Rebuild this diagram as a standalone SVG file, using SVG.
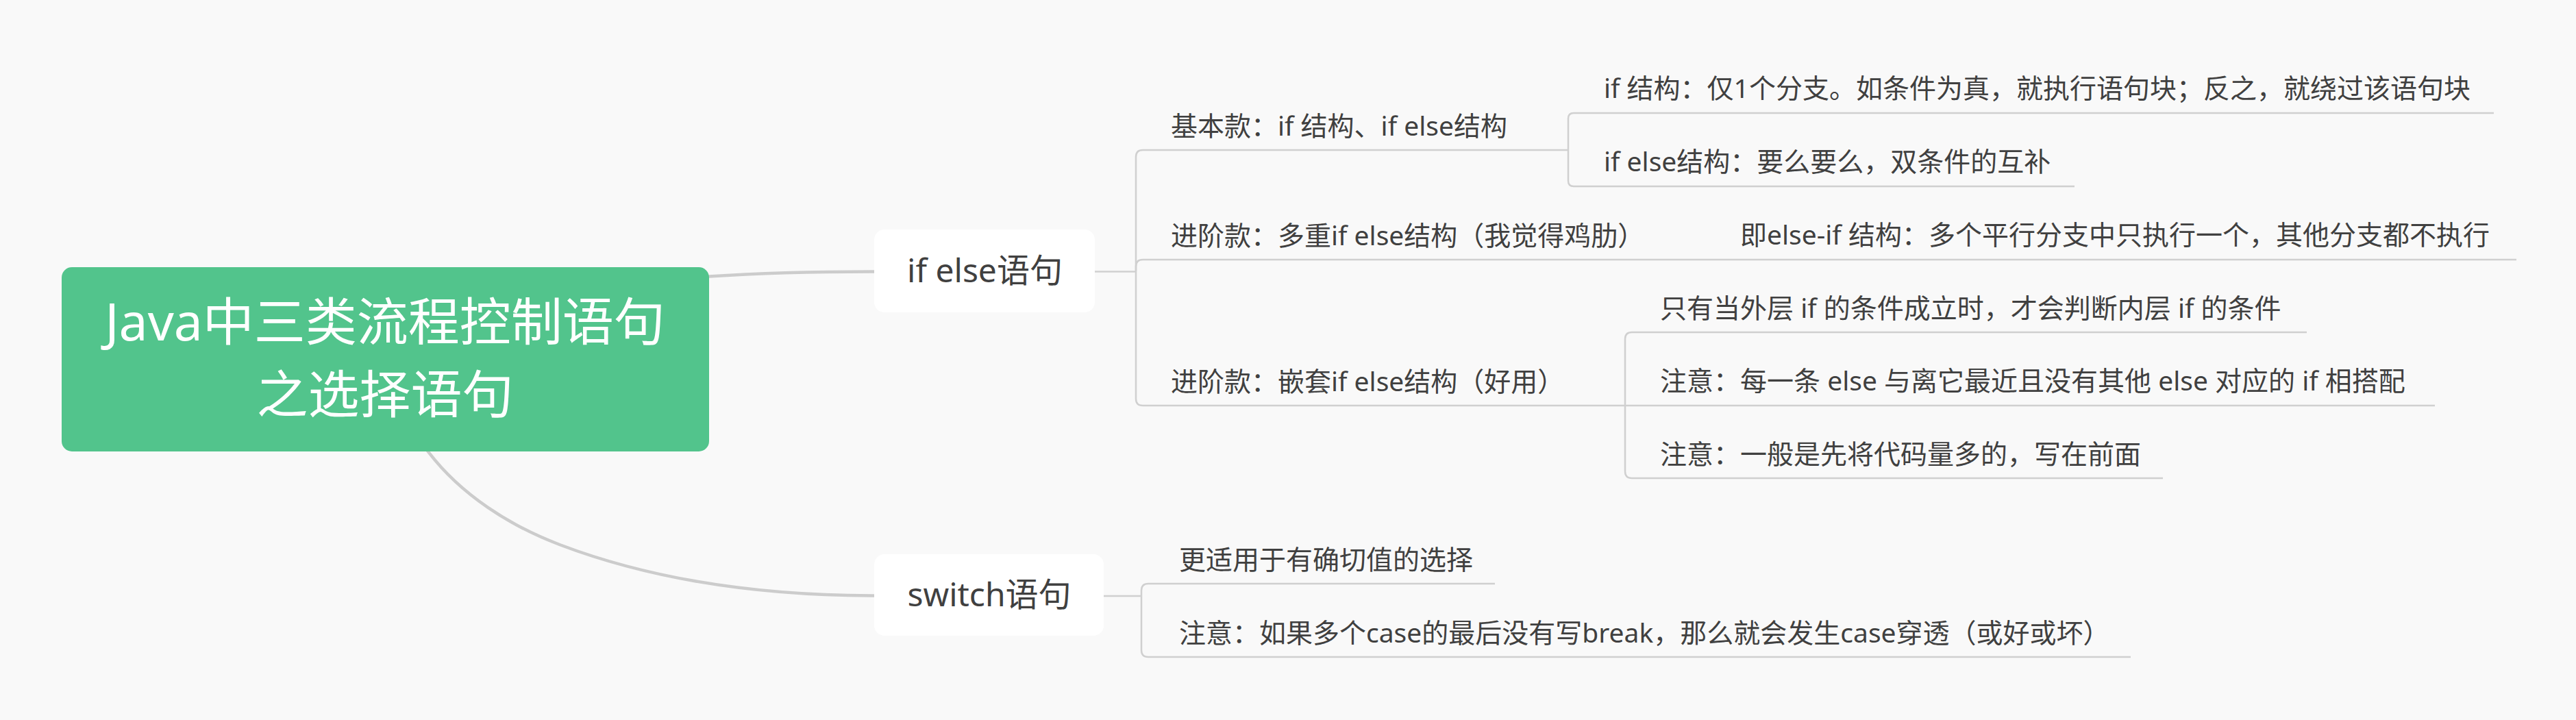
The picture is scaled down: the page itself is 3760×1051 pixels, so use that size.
<svg xmlns="http://www.w3.org/2000/svg" width="3760" height="1051" viewBox="0 0 3760 1051">
<style>
.bg{fill:#f9f9f9}
.main{fill:none;stroke:#cccccc;stroke-width:4.5;stroke-linecap:round}
.ln{fill:none;stroke:#d0d0d0;stroke-width:2.5}
.t{font-family:"Noto Sans","Noto Sans CJK SC",sans-serif;fill:#404040}
.sub{font-size:39px}
.mid{font-size:48px;text-anchor:middle}
.root{font-size:75px;text-anchor:middle;fill:#ffffff}
</style>
<rect class="bg" x="0" y="0" width="3760" height="1051"/>
<g id="connectors">
<path class="main" d="M1000 405 L1035 403.5 C1110 398.5 1180 396.5 1277 396.5"/>
<path class="main" d="M618 650.5 L626 660.7 C673.6 722.6 743.9 767.3 816.8 795 C961.8 850.1 1122 869.5 1277 869.5"/>
<path class="ln" d="M1598 396.5 H1658"/>
<path class="ln" d="M1658 396.5 V229 Q1658 219 1668 219 H2289"/>
<path class="ln" d="M1658 396.5 V389 Q1658 379 1668 379 H3673"/>
<path class="ln" d="M1658 396.5 V582 Q1658 592 1668 592 H2372"/>
<path class="ln" d="M2289 219 V173 Q2289 165 2297 165 H3640"/>
<path class="ln" d="M2289 219 V264 Q2289 272 2297 272 H3028"/>
<path class="ln" d="M2372 592 V495 Q2372 485 2382 485 H3367"/>
<path class="ln" d="M2372 592 H3554"/>
<path class="ln" d="M2372 592 V688 Q2372 698 2382 698 H3157"/>
<path class="ln" d="M1611 870 H1666"/>
<path class="ln" d="M1666 870 V862 Q1666 852 1676 852 H2182"/>
<path class="ln" d="M1666 870 V949 Q1666 959 1676 959 H3110"/>
</g>
<g id="root">
<rect x="90" y="390" width="945" height="269" rx="15" fill="#52c48c"/>
<text class="t root" x="562" y="497">Java中三类流程控制语句</text>
<text class="t root" x="562" y="603">之选择语句</text>
</g>
<g id="ifelse">
<rect x="1276" y="335" width="322" height="121" rx="15" fill="#ffffff"/>
<text class="t mid" x="1437.5" y="412">if else语句</text>
</g>
<g id="switch">
<rect x="1276" y="809" width="335" height="119" rx="15" fill="#ffffff"/>
<text class="t mid" x="1444" y="885">switch语句</text>
</g>
<g id="basic"><text class="t sub" x="1709" y="198">基本款：if 结构、if else结构</text></g>
<g id="multi"><text class="t sub" x="1709" y="358">进阶款：多重if else结构（我觉得鸡肋）</text></g>
<g id="nested"><text class="t sub" x="1709" y="571">进阶款：嵌套if else结构（好用）</text></g>
<g id="if-only"><text class="t sub" x="2341" y="143">if 结构：仅1个分支。如条件为真，就执行语句块；反之，就绕过该语句块</text></g>
<g id="if-else"><text class="t sub" x="2341" y="250">if else结构：要么要么，双条件的互补</text></g>
<g id="else-if"><text class="t sub" x="2540" y="357">即else-if 结构：多个平行分支中只执行一个，其他分支都不执行</text></g>
<g id="nested-1"><text class="t sub" x="2423" y="464">只有当外层 if 的条件成立时，才会判断内层 if 的条件</text></g>
<g id="nested-2"><text class="t sub" x="2423" y="570">注意：每一条 else 与离它最近且没有其他 else 对应的 if 相搭配</text></g>
<g id="nested-3"><text class="t sub" x="2423" y="677">注意：一般是先将代码量多的，写在前面</text></g>
<g id="switch-1"><text class="t sub" x="1721" y="831">更适用于有确切值的选择</text></g>
<g id="switch-2"><text class="t sub" x="1721" y="938">注意：如果多个case的最后没有写break，那么就会发生case穿透（或好或坏）</text></g>
</svg>
